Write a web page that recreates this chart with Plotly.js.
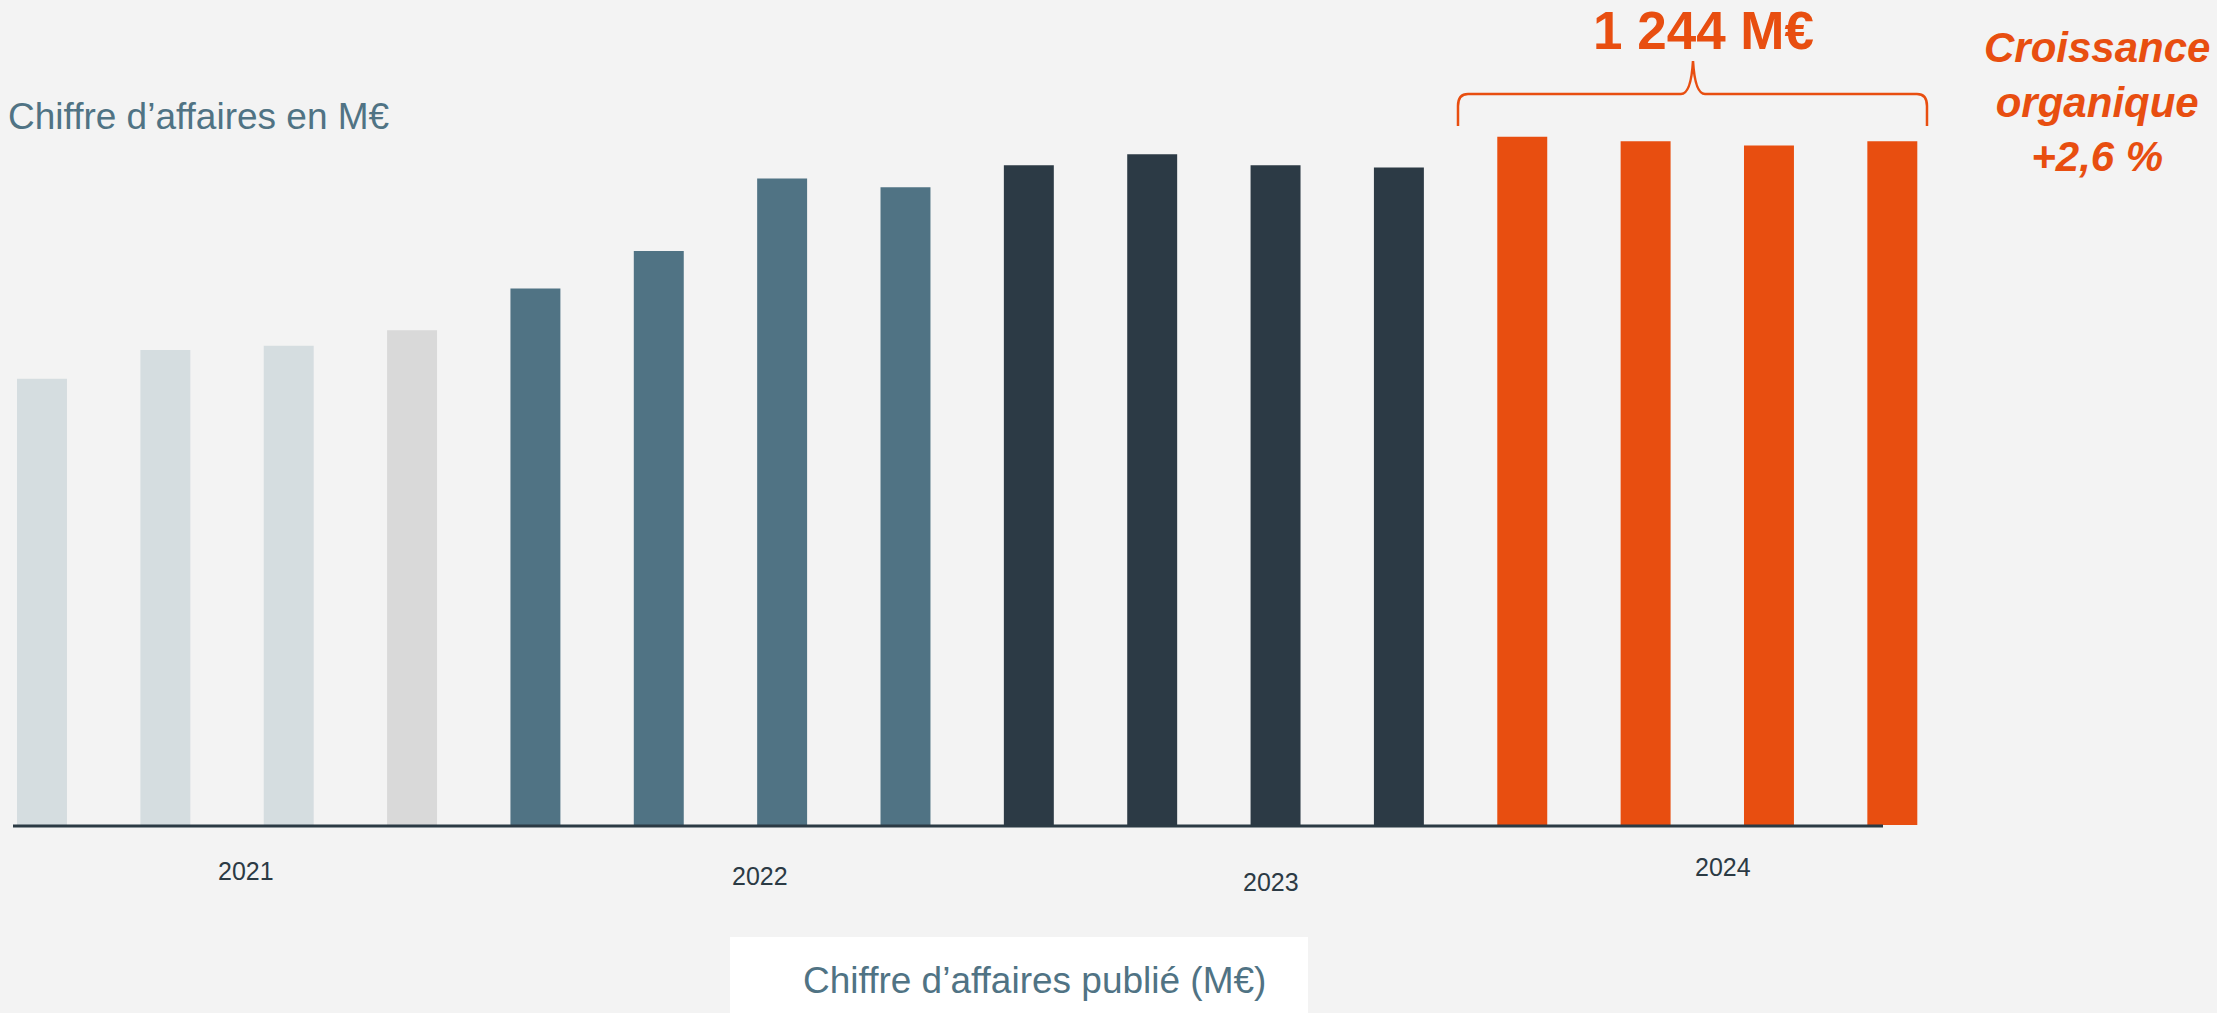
<!DOCTYPE html>
<html>
<head>
<meta charset="utf-8">
<script src="https://cdn.plot.ly/plotly-3.0.1.min.js"></script>
<style>
  html, body { margin: 0; padding: 0; background: #f3f3f3; }
  #chart { width: 2217px; height: 1013px; }
</style>
</head>
<body>
<div id="chart"></div>
<script>
// ---- Data ----
const quarters = ["T1 2021","T2 2021","T3 2021","T4 2021",
                  "T1 2022","T2 2022","T3 2022","T4 2022",
                  "T1 2023","T2 2023","T3 2023","T4 2023",
                  "T1 2024","T2 2024","T3 2024","T4 2024"];
const revenue = [203, 216, 218, 225,
                 244, 261, 294, 290,
                 300, 305, 300, 299,
                 313, 311, 309, 311];
const barColors = ["#d5dde0","#d5dde0","#d5dde0","#d9d9d9",
                   "#507384","#507384","#507384","#507384",
                   "#2c3a45","#2c3a45","#2c3a45","#2c3a45",
                   "#e84e10","#e84e10","#e84e10","#e84e10"];
const yearLabels = ["2021","2022","2023","2024"];
const yTitle = "Chiffre d’affaires en M€";
const legendLabel = "Chiffre d’affaires publié (M€)";
const totalLabel = "1 244 M€";
const growthLabel = "Croissance<br>organique<br>+2,6 %";

// ---- Layout geometry ----
const W = 2217, H = 1013;
const mL = 0, mR = 263, mT = 0, mB = 188;
const plotW = W - mL - mR, plotH = H - mT - mB;
const px = x => (x - mL) / plotW;          // pixel -> paper x
const py = y => (H - mB - y) / plotH;      // pixel -> paper y

const FONT = "Liberation Sans, Arial, Helvetica, sans-serif";
const ORANGE = "#e84e10";
const SLATE = "#507384";
const DARK = "#2b3a44";

const trace = {
  type: "bar",
  x: quarters,
  y: revenue,
  marker: { color: barColors, line: { width: 0 } },
  hoverinfo: "skip"
};

// year label positions (pixel), as in the reference
const yearPos = [[246, 871], [760, 876], [1271, 882], [1723, 867]];

const annotations = yearLabels.map((t, i) => ({
  text: t, xref: "paper", yref: "paper",
  x: px(yearPos[i][0]), y: py(yearPos[i][1]),
  xanchor: "center", yanchor: "middle", showarrow: false,
  font: { family: FONT, size: 25, color: DARK }
}));

annotations.push({
  text: yTitle, xref: "paper", yref: "paper",
  x: px(6), y: py(116), xanchor: "left", yanchor: "middle", showarrow: false,
  font: { family: FONT, size: 37, color: SLATE }
});
annotations.push({
  text: legendLabel, xref: "paper", yref: "paper",
  x: px(801), y: py(980), xanchor: "left", yanchor: "middle", showarrow: false,
  font: { family: FONT, size: 37, color: SLATE }
});
annotations.push({
  text: "<b>" + totalLabel + "</b>", xref: "paper", yref: "paper",
  x: px(1703), y: py(0), xanchor: "center", yanchor: "top", showarrow: false,
  borderpad: 0,
  font: { family: FONT, size: 53, color: ORANGE }
});
annotations.push({
  text: "<b><i>" + growthLabel + "</i></b>", xref: "paper", yref: "paper",
  x: px(2097), y: py(102), xanchor: "center", yanchor: "middle", showarrow: false,
  align: "center",
  font: { family: FONT, size: 42, color: ORANGE }
});

// curly brace path in pixel coords converted to paper
function P(x, y) { return px(x).toFixed(5) + "," + py(y).toFixed(5); }
const braceX0 = 1458, braceX1 = 1927, braceMid = 1693, braceY = 94, braceEnd = 126, braceTip = 61;
const bracePath =
  "M" + P(braceX0, braceEnd) +
  " L" + P(braceX0, braceY + 12) +
  " Q" + P(braceX0, braceY) + " " + P(braceX0 + 10, braceY) +
  " L" + P(braceMid - 12, braceY) +
  " Q" + P(braceMid - 2, braceY) + " " + P(braceMid, braceTip) +
  " Q" + P(braceMid + 2, braceY) + " " + P(braceMid + 12, braceY) +
  " L" + P(braceX1 - 10, braceY) +
  " Q" + P(braceX1, braceY) + " " + P(braceX1, braceY + 12) +
  " L" + P(braceX1, braceEnd);

const shapes = [
  // white legend box
  { type: "rect", xref: "paper", yref: "paper", layer: "below",
    x0: px(730), x1: px(1308), y0: py(1013), y1: py(937),
    fillcolor: "#ffffff", line: { width: 0 } },
  // baseline axis line
  { type: "line", xref: "paper", yref: "paper", layer: "above",
    x0: px(13), x1: px(1883), y0: py(826), y1: py(826),
    line: { color: DARK, width: 3 } },
  // brace
  { type: "path", xref: "paper", yref: "paper", path: bracePath,
    line: { color: ORANGE, width: 2.5 } }
];

const layout = {
  width: W, height: H,
  margin: { l: mL, r: mR, t: mT, b: mB, pad: 0 },
  paper_bgcolor: "#f3f3f3",
  plot_bgcolor: "rgba(0,0,0,0)",
  showlegend: false,
  bargap: 0.595,
  hovermode: false,
  xaxis: {
    type: "category",
    range: [-0.3405, 15.5],
    showticklabels: false, showgrid: false, zeroline: false,
    showline: false, ticks: "", fixedrange: true
  },
  yaxis: {
    range: [0, 375.2],
    showticklabels: false, showgrid: false, zeroline: false,
    showline: false, ticks: "", fixedrange: true
  },
  annotations: annotations,
  shapes: shapes,
  font: { family: FONT }
};

Plotly.newPlot("chart", [trace], layout, { displayModeBar: false, staticPlot: true });
</script>
</body>
</html>
